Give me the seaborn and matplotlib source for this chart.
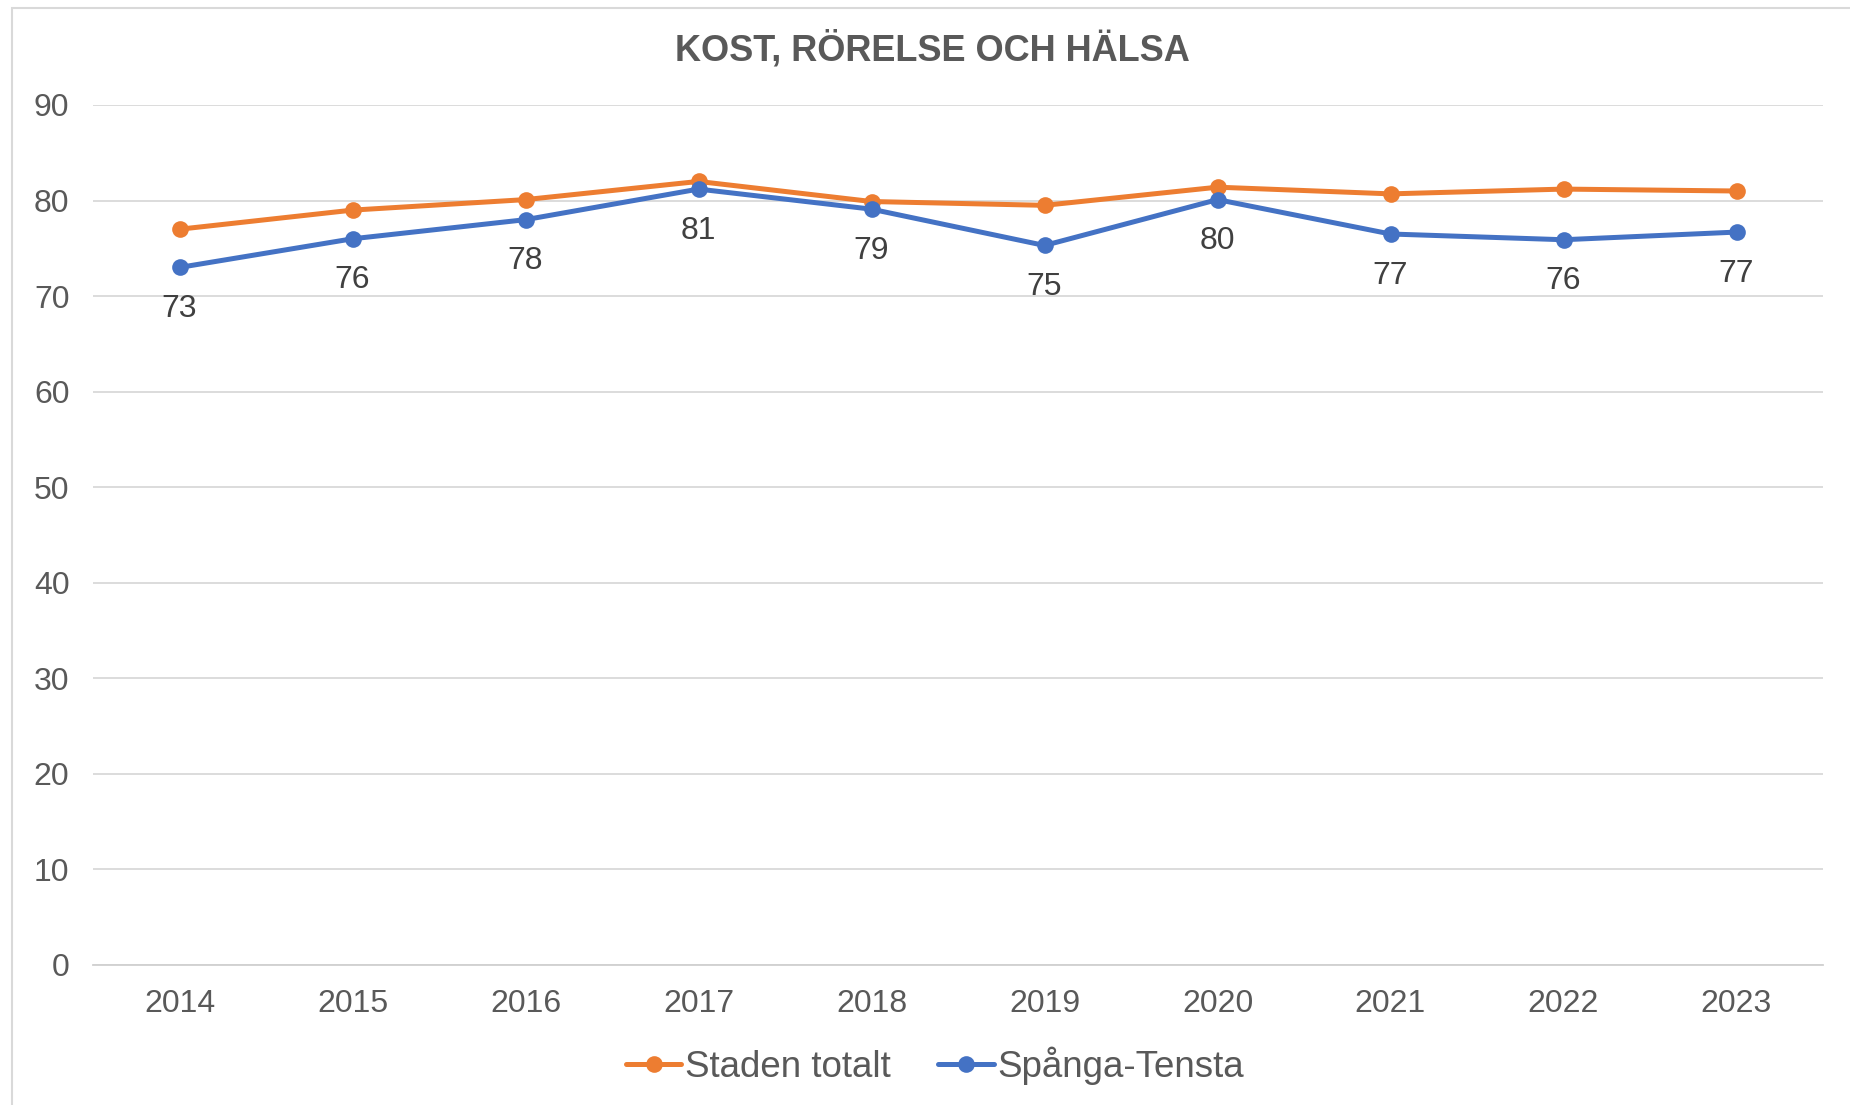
import numpy as np
import pandas as pd
import matplotlib
matplotlib.use("Agg")
import matplotlib.pyplot as plt
import seaborn as sns

years = ["2014", "2015", "2016", "2017", "2018", "2019", "2020", "2021", "2022", "2023"]
staden = [77.0, 79.0, 80.1, 82.0, 79.9, 79.5, 81.4, 80.7, 81.2, 81.0]
spanga = [73.0, 76.0, 78.0, 81.2, 79.1, 75.3, 80.1, 76.5, 75.9, 76.7]
spanga_labels = [73, 76, 78, 81, 79, 75, 80, 77, 76, 77]

series_names = ["Staden totalt", "Spånga-Tensta"]
colors = ["#ED7D31", "#4472C4"]

df = pd.DataFrame({
    "year": years * 2,
    "value": staden + spanga,
    "serie": [series_names[0]] * len(years) + [series_names[1]] * len(years),
})

sns.set_theme(style="white")
plt.rcParams['font.family'] = ['Liberation Sans', 'DejaVu Sans']
txt = "#595959"

W, H = 1850, 1105
fig = plt.figure(figsize=(W / 100, H / 100), dpi=100)
ax = fig.add_axes([93 / W, 1 - 965 / H, (1823 - 93) / W, (965 - 105) / H])

# light border (only top and left visible in the cropped original)
fig.patches.append(plt.Rectangle((12 / W, -0.05), 1.1, 1 - 8 / H + 0.05,
                                 transform=fig.transFigure, fill=False,
                                 edgecolor="#D9D9D9", lw=1.5))

sns.lineplot(data=df, x="year", y="value", hue="serie", palette=colors,
             marker="o", markersize=12, markeredgewidth=0, linewidth=3.6,
             ax=ax, legend=True)

for i, (y, lab) in enumerate(zip(spanga, spanga_labels)):
    ax.annotate(str(lab), (i, y), xytext=(0, -30), textcoords="offset points",
                ha="center", va="center", fontsize=23, color="#404040")

ax.set_xlim(-0.5, len(years) - 0.5)
ax.set_ylim(0, 90)
ax.set_yticks(np.arange(0, 91, 10))
ax.yaxis.grid(True, color="#D9D9D9", lw=1.3)
ax.set_axisbelow(True)
for s in ["top", "right", "left"]:
    ax.spines[s].set_visible(False)
ax.spines["bottom"].set_color("#D0D0D0")
ax.spines["bottom"].set_linewidth(1.3)
ax.tick_params(axis="both", length=0, labelsize=23, labelcolor=txt)
ax.tick_params(axis="x", pad=17)
ax.tick_params(axis="y", pad=17)
ax.set_xlabel("")
ax.set_ylabel("")

fig.text(932 / W, 1 - 50 / H, "KOST, RÖRELSE OCH HÄLSA", ha="center", va="center",
         fontsize=26, fontweight="bold", color=txt)

handles, labels = ax.get_legend_handles_labels()
ax.legend(handles, labels, loc="center",
          bbox_to_anchor=(935 / W, 1 - 1066 / H), bbox_transform=fig.transFigure,
          ncol=2, frameon=False, fontsize=26.5, labelcolor=txt, handlelength=1.5,
          handletextpad=0.1, columnspacing=1.3)

fig.savefig("out.png", dpi=100, facecolor="white")
